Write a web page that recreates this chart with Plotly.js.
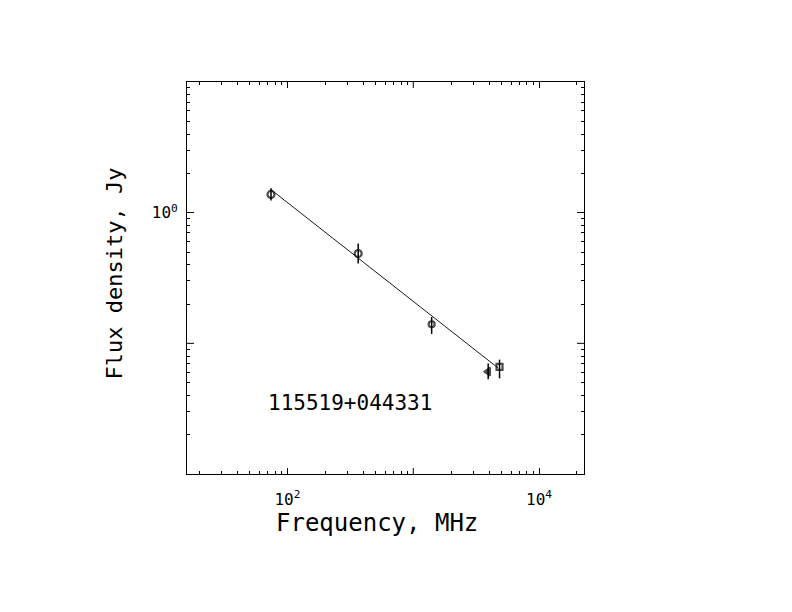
<!DOCTYPE html>
<html>
<head>
<meta charset="utf-8">
<script src="https://cdn.plot.ly/plotly-3.0.1.min.js"></script>
<style>html,body{margin:0;padding:0;background:#fff}#plot{width:792px;height:612px}</style>
</head>
<body>
<div id="plot"></div>
<script>
// Measured spectrum points (frequency in MHz, flux density in Jy)
const freqMHz   = [74, 365, 1400, 3940, 4850];
const fluxJy    = [1.38, 0.486, 0.140, 0.0607, 0.066];
const fluxErrUp = [0.16, 0.095, 0.019, 0.0095, 0.009];
const fluxErrDn = [0.14, 0.078, 0.022, 0.0076, 0.012];
const symbols   = ['circle-open', 'circle-open', 'circle-open', 'triangle-left', 'square-open'];

// Power-law fit line endpoints
const fitFreq = [74, 4700];
const fitFlux = [1.50, 0.065];

const sourceName = '115519+044331';
const xTitle = 'Frequency, MHz';
const yTitle = 'Flux density, Jy';

// Labelled major ticks
const xTickVals = [100, 10000];
const xTickText = ['10<sup>2</sup>', '10<sup>4</sup>'];
const yTickVals = [1];
const yTickText = ['10<sup>0</sup>'];
// Unlabelled major ticks
const xMajorPlain = [1000];
const yMajorPlain = [0.1];

function minorVals(lo, hi) {
  const out = [];
  for (let k = lo; k <= hi; k++) {
    for (let d = 2; d <= 9; d++) out.push(d * Math.pow(10, k));
  }
  return out;
}

const font = 'DejaVu Sans Mono, monospace';

const traces = [
  {
    x: fitFreq, y: fitFlux, mode: 'lines', type: 'scatter',
    line: {color: '#000', width: 0.9}, hoverinfo: 'skip'
  },
  {
    x: freqMHz, y: fluxJy, mode: 'markers', type: 'scatter',
    marker: {symbol: symbols, size: [7, 7, 6, 7, 6], color: '#000',
             line: {color: '#000', width: 2.2}},
    error_y: {type: 'data', symmetric: false, array: fluxErrUp, arrayminus: fluxErrDn,
              color: '#000', thickness: 1.5, width: 0}
  }
];

const axisCommon = {
  type: 'log', showgrid: false, zeroline: false,
  showline: true, linecolor: '#000', linewidth: 1, mirror: 'allticks',
  ticks: 'inside', tickcolor: '#000', tickwidth: 1,
  tickmode: 'array',
  tickfont: {family: font, size: 16, color: '#000'}
};

// Long (major) ticks without labels, drawn at data positions on all sides
const shapes = [];
const xTickLenPaper = 6 / 392.6;
const yTickLenPaper = 7 / 397.6;
xMajorPlain.forEach(v => {
  shapes.push({type: 'line', xref: 'x', yref: 'paper', x0: v, x1: v, y0: 0, y1: xTickLenPaper,
               line: {color: '#000', width: 1}});
  shapes.push({type: 'line', xref: 'x', yref: 'paper', x0: v, x1: v, y0: 1 - xTickLenPaper, y1: 1,
               line: {color: '#000', width: 1}});
});
yMajorPlain.forEach(v => {
  shapes.push({type: 'line', xref: 'paper', yref: 'y', x0: 0, x1: yTickLenPaper, y0: v, y1: v,
               line: {color: '#000', width: 1}});
  shapes.push({type: 'line', xref: 'paper', yref: 'y', x0: 1 - yTickLenPaper, x1: 1, y0: v, y1: v,
               line: {color: '#000', width: 1}});
});

const layout = {
  width: 792, height: 612,
  paper_bgcolor: '#fff', plot_bgcolor: '#fff',
  margin: {l: 187, r: 208, t: 82, b: 138},
  showlegend: false,
  xaxis: Object.assign({}, axisCommon, {
    range: [1.2016, 4.357],
    tickvals: xTickVals, ticktext: xTickText, ticklen: 6,
    ticklabelstandoff: 11,
    minor: {tickmode: 'array', tickvals: minorVals(1, 4), ticks: 'inside', ticklen: 3,
            tickcolor: '#000', tickwidth: 1, showgrid: false}
  }),
  yaxis: Object.assign({}, axisCommon, {
    range: [-2, 1],
    tickvals: yTickVals, ticktext: yTickText, ticklen: 7,
    ticklabelstandoff: 5,
    minor: {tickmode: 'array', tickvals: minorVals(-2, 0), ticks: 'inside', ticklen: 3,
            tickcolor: '#000', tickwidth: 1, showgrid: false}
  }),
  shapes: shapes,
  annotations: [
    {
      text: sourceName, xref: 'paper', yref: 'paper', x: 0.1995, y: 0.1816,
      xanchor: 'left', yanchor: 'middle', showarrow: false,
      font: {family: font, size: 21, color: '#000'}
    },
    {
      text: xTitle, xref: 'paper', yref: 'paper', x: 0.4786, y: -0.124,
      xanchor: 'center', yanchor: 'middle', showarrow: false,
      font: {family: font, size: 24, color: '#000'}
    },
    {
      text: yTitle, xref: 'paper', yref: 'paper', x: -0.1828, y: 0.5127,
      xanchor: 'center', yanchor: 'middle', showarrow: false, textangle: -90,
      font: {family: font, size: 22, color: '#000'}
    }
  ]
};

Plotly.newPlot('plot', traces, layout, {staticPlot: true, displayModeBar: false});
</script>
</body>
</html>
